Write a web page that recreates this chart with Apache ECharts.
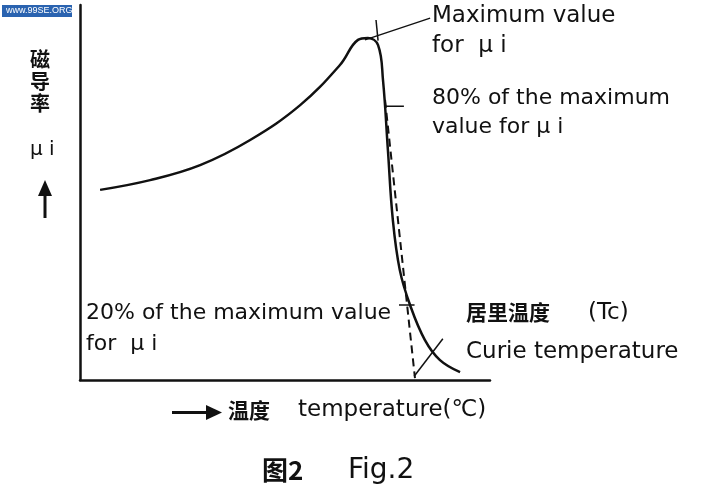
<!DOCTYPE html>
<html><head><meta charset="utf-8">
<script src="https://cdn.jsdelivr.net/npm/echarts@6/dist/echarts.min.js"></script>
<style>html,body{margin:0;padding:0;background:#fff}#main{width:701px;height:499px}</style>
</head><body><div id="main"></div>
<script>
// 磁导率 μi 随温度变化曲线（示意图）
var curveX = [4.9, 17.1, 29.3, 41.5, 53.7, 63.4, 67.8, 70.2, 72.7, 73.9, 75.1, 76.3, 78, 80.5, 84.1, 87.8, 92.7];
var curveY = [50.7, 53.3, 57.3, 64, 73.3, 84, 90.7, 91.2, 89.3, 80, 61.3, 42.7, 29.3, 20, 10.7, 5.3, 2.1];
var dashX = [74.4, 81.7];
var dashY = [74.7, 0.5];
var leaderLines = [
  [[69.5, 90.7], [85.4, 96.5]],
  [[72.7, 90.5], [72.2, 96]],
  [[74.6, 73], [79, 73]],
  [[77.8, 20], [81.6, 20]],
  [[81.5, 1], [88.5, 11]]
];

function pairs(xs, ys) { return xs.map(function (x, i) { return [x, ys[i]]; }); }

var series = [{
  type: 'line', data: pairs(curveX, curveY), smooth: 0.4, symbol: 'none',
  lineStyle: { color: '#111', width: 2.5 }
}, {
  type: 'line', data: pairs(dashX, dashY), symbol: 'none',
  lineStyle: { color: '#111', width: 2, type: [8, 5] }
}];
leaderLines.forEach(function (l) {
  series.push({ type: 'line', data: l, symbol: 'none', lineStyle: { color: '#111', width: 1.5 } });
});

var txt = function (x, y, s, size) {
  return { type: 'text', left: x, top: y, style: { text: s, fill: '#111', font: (size || 23) + 'px "DejaVu Sans", sans-serif' } };
};

var myChart = echarts.init(document.getElementById('main'));
myChart.setOption({
  animation: false,
  grid: { left: 80, top: 5, right: 211, bottom: 119 },
  xAxis: { type: 'value', min: 0, max: 100, axisLine: { lineStyle: { color: '#111', width: 2.5 } },
    axisTick: { show: false }, axisLabel: { show: false }, splitLine: { show: false } },
  yAxis: { type: 'value', min: 0, max: 100, axisLine: { show: true, lineStyle: { color: '#111', width: 2.5 } },
    axisTick: { show: false }, axisLabel: { show: false }, splitLine: { show: false } },
  series: series,
  graphic: [
    { type: 'rect', left: 2, top: 5, shape: { width: 70, height: 12 }, style: { fill: '#2a63b0' } },
    { type: 'text', left: 6, top: 6, style: { text: 'www.99SE.ORG', fill: '#fff', font: '9px sans-serif' } },
    { type: 'text', left: 30, top: 48, style: { text: '磁\n导\n率', fill: '#111', font: 'bold 20px "Noto Sans CJK SC"', lineHeight: 22 } },
    txt(30, 140, 'μ i', 20),
    { type: 'polygon', shape: { points: [[45, 180], [52, 196], [38, 196]] }, style: { fill: '#111' } },
    { type: 'rect', shape: { x: 43.5, y: 194, width: 3, height: 24 }, style: { fill: '#111' } },
    txt(432, 5, 'Maximum value'),
    txt(432, 35, 'for  μ i'),
    txt(432, 87, '80% of the maximum', 22),
    txt(432, 116, 'value for μ i', 22),
    txt(86, 302, '20% of the maximum value', 22),
    txt(86, 333, 'for  μ i', 22),
    { type: 'text', left: 466, top: 302, style: { text: '居里温度', fill: '#111', font: 'bold 21px "Noto Sans CJK SC"' } },
    txt(588, 302, '(Tc)'),
    txt(466, 341, 'Curie temperature'),
    { type: 'rect', shape: { x: 172, y: 411, width: 36, height: 3 }, style: { fill: '#111' } },
    { type: 'polygon', shape: { points: [[222, 412.5], [206, 405], [206, 420]] }, style: { fill: '#111' } },
    { type: 'text', left: 228, top: 400, style: { text: '温度', fill: '#111', font: 'bold 21px "Noto Sans CJK SC"' } },
    txt(298, 399, 'temperature(℃)', 23),
    { type: 'text', left: 262, top: 457, style: { text: '图2', fill: '#111', font: 'bold 26px "Noto Sans CJK SC"' } },
    txt(348, 457, 'Fig.2', 28)
  ]
});
</script></body></html>
